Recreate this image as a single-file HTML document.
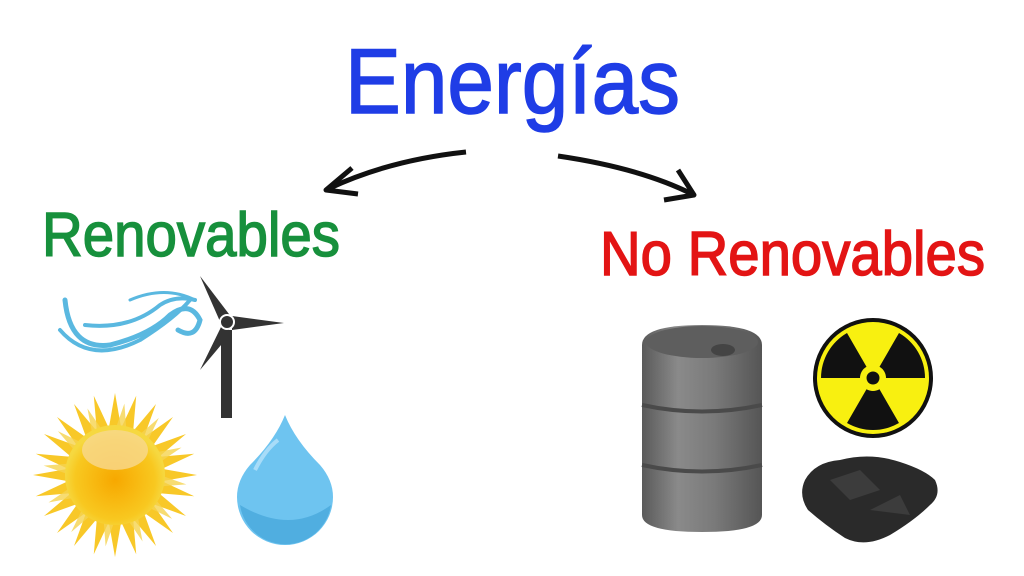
<!DOCTYPE html>
<html><head><meta charset="utf-8"><style>html,body{margin:0;padding:0;background:#fff}svg{display:block}</style></head>
<body>
<svg width="1024" height="576" viewBox="0 0 1024 576" xmlns="http://www.w3.org/2000/svg">
<defs>
<radialGradient id="sun" cx="0.5" cy="0.55" r="0.5"><stop offset="0" stop-color="#f7a800"/><stop offset="0.8" stop-color="#f8c820"/><stop offset="1" stop-color="#f6d840"/></radialGradient>
<linearGradient id="barrel" x1="0" x2="1"><stop offset="0" stop-color="#5a5a5a"/><stop offset="0.3" stop-color="#8a8a8a"/><stop offset="0.6" stop-color="#7a7a7a"/><stop offset="1" stop-color="#555"/></linearGradient>
</defs>
<text x="345" y="113" font-family="Liberation Sans, sans-serif" font-size="92" fill="#1f3de6" stroke="#1f3de6" stroke-width="1.5" textLength="335" lengthAdjust="spacingAndGlyphs">Energías</text>
<text x="42" y="256" font-family="Liberation Sans, sans-serif" font-size="62" fill="#17903c" stroke="#17903c" stroke-width="1.5" textLength="298" lengthAdjust="spacingAndGlyphs">Renovables</text>
<text x="600" y="275" font-family="Liberation Sans, sans-serif" font-size="62" fill="#e31414" stroke="#e31414" stroke-width="1.5" textLength="385" lengthAdjust="spacingAndGlyphs">No Renovables</text>
<!-- arrows -->
<path d="M466 152 Q390 160 330 188" stroke="#111" stroke-width="5" fill="none"/>
<path d="M352 168 L326 190 L358 194" stroke="#111" stroke-width="5" fill="none" stroke-linejoin="round"/>
<path d="M558 156 Q640 168 692 194" stroke="#111" stroke-width="5" fill="none"/>
<path d="M678 170 L694 195 L664 200" stroke="#111" stroke-width="5" fill="none" stroke-linejoin="round"/>
<!-- wind -->
<g stroke="#5ab8e0" fill="none" stroke-linecap="round">
<path d="M65 300 Q70 350 110 345 Q150 335 170 315 Q190 300 200 320 Q195 340 178 330" stroke-width="5"/>
<path d="M60 330 Q90 365 140 340 Q175 318 190 300" stroke-width="4"/>
<path d="M85 325 Q130 330 160 305 Q175 295 195 300" stroke-width="4"/>
<path d="M130 300 Q165 285 195 300" stroke-width="3"/>
</g>
<!-- turbine -->
<rect x="221" y="330" width="11" height="88" fill="#333"/>
<path d="M200 276 L232 318 L222 326 Z" fill="#333"/>
<path d="M232 316 L284 323 L232 330 Z" fill="#333"/>
<path d="M222 325 L232 332 L200 370 Z" fill="#333"/>
<circle cx="227" cy="322" r="7" fill="#333" stroke="#fff" stroke-width="2"/>
<!-- sun -->
<g transform="translate(115,475)">
<g fill="#f8c828">
<polygon points="0,-82 6,-48 -6,-48" transform="rotate(0)"/><polygon points="0,-82 6,-48 -6,-48" transform="rotate(15)"/><polygon points="0,-82 6,-48 -6,-48" transform="rotate(30)"/><polygon points="0,-82 6,-48 -6,-48" transform="rotate(45)"/><polygon points="0,-82 6,-48 -6,-48" transform="rotate(60)"/><polygon points="0,-82 6,-48 -6,-48" transform="rotate(75)"/><polygon points="0,-82 6,-48 -6,-48" transform="rotate(90)"/><polygon points="0,-82 6,-48 -6,-48" transform="rotate(105)"/><polygon points="0,-82 6,-48 -6,-48" transform="rotate(120)"/><polygon points="0,-82 6,-48 -6,-48" transform="rotate(135)"/><polygon points="0,-82 6,-48 -6,-48" transform="rotate(150)"/><polygon points="0,-82 6,-48 -6,-48" transform="rotate(165)"/><polygon points="0,-82 6,-48 -6,-48" transform="rotate(180)"/><polygon points="0,-82 6,-48 -6,-48" transform="rotate(195)"/><polygon points="0,-82 6,-48 -6,-48" transform="rotate(210)"/><polygon points="0,-82 6,-48 -6,-48" transform="rotate(225)"/><polygon points="0,-82 6,-48 -6,-48" transform="rotate(240)"/><polygon points="0,-82 6,-48 -6,-48" transform="rotate(255)"/><polygon points="0,-82 6,-48 -6,-48" transform="rotate(270)"/><polygon points="0,-82 6,-48 -6,-48" transform="rotate(285)"/><polygon points="0,-82 6,-48 -6,-48" transform="rotate(300)"/><polygon points="0,-82 6,-48 -6,-48" transform="rotate(315)"/><polygon points="0,-82 6,-48 -6,-48" transform="rotate(330)"/><polygon points="0,-82 6,-48 -6,-48" transform="rotate(345)"/>
</g>
<g fill="#f6d450" opacity="0.8">
<polygon points="0,-72 5,-48 -5,-48" transform="rotate(7.5)"/><polygon points="0,-72 5,-48 -5,-48" transform="rotate(37.5)"/><polygon points="0,-72 5,-48 -5,-48" transform="rotate(67.5)"/><polygon points="0,-72 5,-48 -5,-48" transform="rotate(97.5)"/><polygon points="0,-72 5,-48 -5,-48" transform="rotate(127.5)"/><polygon points="0,-72 5,-48 -5,-48" transform="rotate(157.5)"/><polygon points="0,-72 5,-48 -5,-48" transform="rotate(187.5)"/><polygon points="0,-72 5,-48 -5,-48" transform="rotate(217.5)"/><polygon points="0,-72 5,-48 -5,-48" transform="rotate(247.5)"/><polygon points="0,-72 5,-48 -5,-48" transform="rotate(277.5)"/><polygon points="0,-72 5,-48 -5,-48" transform="rotate(307.5)"/><polygon points="0,-72 5,-48 -5,-48" transform="rotate(337.5)"/>
</g>
<circle r="50" fill="url(#sun)"/>
<ellipse cx="0" cy="-25" rx="33" ry="20" fill="#f8d890" opacity="0.8"/>
</g>
<!-- drop -->
<path d="M285 415 Q275 440 250 465 Q237 480 237 497 A48 48 0 0 0 333 497 Q333 480 320 465 Q295 440 285 415 Z" fill="#6ec4f0"/>
<path d="M240 505 A46 46 0 0 0 331 505 Q290 535 240 505Z" fill="#50aee0"/>
<path d="M255 470 Q265 450 278 440" stroke="#a8dcf8" stroke-width="4" fill="none"/>
<!-- barrel -->
<path d="M642 345 Q642 325 702 325 Q762 325 762 345 L762 515 Q762 532 702 532 Q642 532 642 515 Z" fill="url(#barrel)"/>
<ellipse cx="702" cy="342" rx="56" ry="16" fill="#5e5e5e"/>
<ellipse cx="723" cy="350" rx="12" ry="6" fill="#444"/>
<path d="M642 405 Q702 418 762 405" stroke="#4a4a4a" stroke-width="4" fill="none"/>
<path d="M642 465 Q702 478 762 465" stroke="#4a4a4a" stroke-width="4" fill="none"/>
<!-- radiation -->
<circle cx="873" cy="378" r="60" fill="#111"/>
<circle cx="873" cy="378" r="56" fill="#f8f010"/>
<g transform="translate(873,378)" fill="#111">
<path id="blade" d="M6.5 -11.26 L26 -45 A52 52 0 0 1 52 0 L13 0 A13 13 0 0 0 6.5 -11.26 Z"/>
<path d="M6.5 -11.26 L26 -45 A52 52 0 0 1 52 0 L13 0 A13 13 0 0 0 6.5 -11.26 Z" transform="rotate(120)"/>
<path d="M6.5 -11.26 L26 -45 A52 52 0 0 1 52 0 L13 0 A13 13 0 0 0 6.5 -11.26 Z" transform="rotate(-120)"/>
<circle r="6.5" fill="#111"/>
</g>
<!-- coal -->
<path d="M805 480 Q815 462 840 460 Q870 452 900 462 Q925 470 935 480 Q942 495 930 505 Q915 520 890 535 Q865 548 845 538 Q825 525 808 510 Q798 495 805 480 Z" fill="#2a2a2a"/>
<path d="M830 480 L860 470 L880 490 L850 500Z M870 510 L900 495 L910 515 Z" fill="#3c3c3c"/>
</svg>
</body></html>
